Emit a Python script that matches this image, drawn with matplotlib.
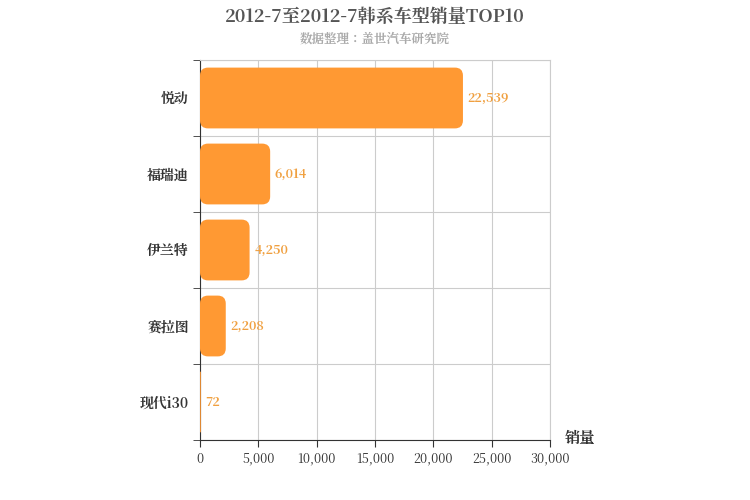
import matplotlib
matplotlib.use("Agg")
import matplotlib.pyplot as plt
from matplotlib.patches import FancyBboxPatch
from matplotlib import font_manager as fm

cjk = None
for f in fm.fontManager.ttflist:
    if 'CJK' in f.name and 'SC' in f.name:
        cjk = f.name
        break
if cjk is None:
    for f in fm.fontManager.ttflist:
        if 'CJK' in f.name:
            cjk = f.name
            break
if cjk is None:
    import glob
    files = glob.glob('/usr/share/fonts/**/*CJK*', recursive=True)
    for p in files:
        try:
            fm.fontManager.addfont(p)
        except Exception:
            pass
    for f in fm.fontManager.ttflist:
        if 'CJK' in f.name:
            cjk = f.name
            break
plt.rcParams['font.family'] = [cjk or 'Noto Sans CJK SC', 'DejaVu Sans']

categories = ['悦动', '福瑞迪', '伊兰特', '赛拉图', '现代i30']
values = [22539, 6014, 4250, 2208, 72]
xticks = [0, 5000, 10000, 15000, 20000, 25000, 30000]

fig = plt.figure(figsize=(7.5, 5), dpi=100)
ax = fig.add_axes([200/750, 60/500, 350/750, 380/500])
ax.set_xlim(0, 30000)
ax.set_ylim(len(categories), 0)

color = '#FF9933'
xpp = 30000 / 350
ypp = len(categories) / 380
for i, v in enumerate(values):
    h = 0.8
    r = min(8 * xpp, v / 2)
    p = FancyBboxPatch((0, i + 0.1), v, h,
                       boxstyle=f"round,pad=0,rounding_size={r}",
                       mutation_aspect=ypp / xpp,
                       fc=color, ec='none', zorder=3)
    ax.add_patch(p)
    ax.text(v + 400, i + 0.5, f"{v:,}", va='center', ha='left',
            color='#F0A040', fontsize=9, fontweight='bold', zorder=4)

ax.set_yticks([i + 0.5 for i in range(len(categories))])
ax.set_yticklabels(categories, fontsize=10, fontweight='bold', color='#333333')
ax.set_yticks(range(len(categories) + 1), minor=True)
ax.tick_params(axis='y', which='major', length=0, pad=8)
ax.tick_params(axis='y', which='minor', length=5, color='#333333')
ax.set_xticks(xticks)
ax.set_xticklabels([f"{t:,}" for t in xticks], fontsize=9, color='#333333')
ax.tick_params(axis='x', length=5, color='#333333')

ax.grid(True, axis='x', color='#cccccc', lw=0.8, zorder=0)
ax.grid(True, axis='y', which='minor', color='#cccccc', lw=0.8, zorder=0)
for s in ['top', 'right']:
    ax.spines[s].set_color('#cccccc')
ax.spines['left'].set_color('#333333')
ax.spines['bottom'].set_color('#333333')

fig.text(0.5, 0.965, '2012-7至2012-7韩系车型销量TOP10', ha='center', va='center',
         fontsize=13, fontweight='bold', color='#555555')
fig.text(0.5, 0.922, '数据整理：盖世汽车研究院', ha='center', va='center',
         fontsize=9, fontweight='bold', color='#AAAAAA')
fig.text(580/750, 1 - 438/500, '销量', ha='center', va='center',
         fontsize=11, fontweight='bold', color='#333333')

fig.savefig('out.png', dpi=100)
